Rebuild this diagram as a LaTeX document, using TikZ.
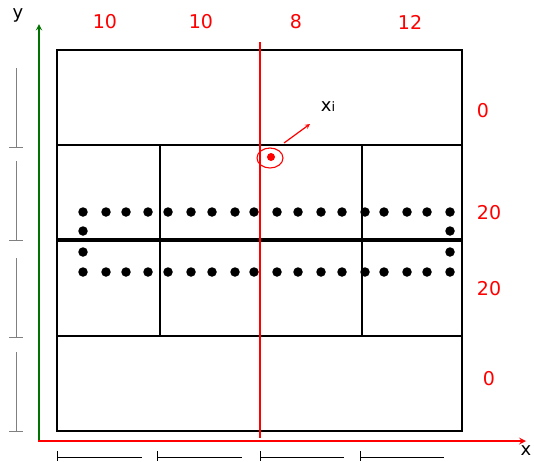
\documentclass[tikz,border=0pt]{standalone}
\usepackage{fontspec}
\setmainfont{DejaVu Sans}
\usetikzlibrary{positioning,shapes.geometric}

\begin{document}
\begin{tikzpicture}[x=1pt, y=-1pt, >=stealth]
  \tikzstyle{wall}=[draw, line width=2pt]
  \tikzstyle{dot}=[circle, fill, minimum size=9.5pt, inner sep=0pt]
  \tikzstyle{num}=[text=red, font=\fontsize{19}{19}\selectfont, inner sep=0pt]
  \tikzstyle{axlabel}=[font=\fontsize{18}{18}\selectfont, inner sep=0pt]
  \tikzstyle{dim}=[line width=0.9pt]

  \useasboundingbox (0,0) rectangle (534,461);

  % panel and cells
  \draw[wall] (57,50) rectangle (462,431);
  \draw[wall] (57,145) -- (462,145);
  \draw[wall] (57,336) -- (462,336);
  \draw[line width=4.5pt] (57,240) -- (462,240);
  \draw[wall] (160,145) -- (160,336);
  \draw[wall] (362,145) -- (362,336);
  \draw[wall] (260,50) -- (260,431);

  % rows of dots
  \foreach \x [count=\i] in {83,106,126,148,168,191,212,235,254,277,298,321,342,365,384,407,427,450} {
    \node[dot] (t\i) at (\x,212) {};
    \node[dot] (b\i) at (\x,272) {};
  }
  \node[dot] (l1) at (83,231) {};
  \node[dot] (l2) at (83,252) {};
  \node[dot] (r1) at (450,231) {};
  \node[dot] (r2) at (450,252) {};

  % section line
  \draw[red, line width=2.4pt] (260,42) -- (260,438);

  % axes
  \coordinate (O) at (38,441);
  \coordinate (xend) at (526,441);
  \coordinate (yend) at (39,24);
  \draw[green!45!black, line width=1.8pt, ->] (39,441) -- (yend);
  \draw[red, line width=2pt, ->] (O) -- (xend);
  \node[axlabel] (ylab) at (18,15) {y};
  \node[axlabel] (xlab) at (526,451) {x};

  % point x_i
  \node[draw=red, line width=1.1pt, ellipse, minimum width=26pt, minimum height=20pt, inner sep=0pt] (ring) at (270,158) {};
  \node[circle, fill=red, minimum size=8pt, inner sep=0pt] (xi) at (271,157) {};
  \node[font=\fontsize{18}{18}\selectfont, inner sep=0pt] (xilab) at (328,107) {x{\fontsize{13}{13}\selectfont i}};
  \coordinate (arr) at (284,143);
  \draw[red, line width=1.2pt, ->] (arr) -- (310,124);

  % widths
  \node[num] (w1) at (105,22) {10};
  \node[num] (w2) at (201,22) {10};
  \node[num] (w3) at (296,22) {8};
  \node[num] (w4) at (410,22) {12};

  % heights
  \node[num] (h1) at (483,111) {0};
  \node[num] (h2) at (489,213) {20};
  \node[num] (h3) at (489,289) {20};
  \node[num] (h4) at (489,379) {0};

  % dimension marks
  \foreach \a/\b in {57/142,157/242,260/344,360/444} {
    \draw[dim] (\a,451) -- (\a,461);
    \draw[dim] (\a,457) -- (\b,457);
  }
  \foreach \a/\b in {68/147,161/240,258/337,352/431} {
    \draw[dim, gray] (16,\a) -- (16,\b);
    \draw[dim, gray] (9,\b) -- (23,\b);
  }
\end{tikzpicture}
\end{document}
